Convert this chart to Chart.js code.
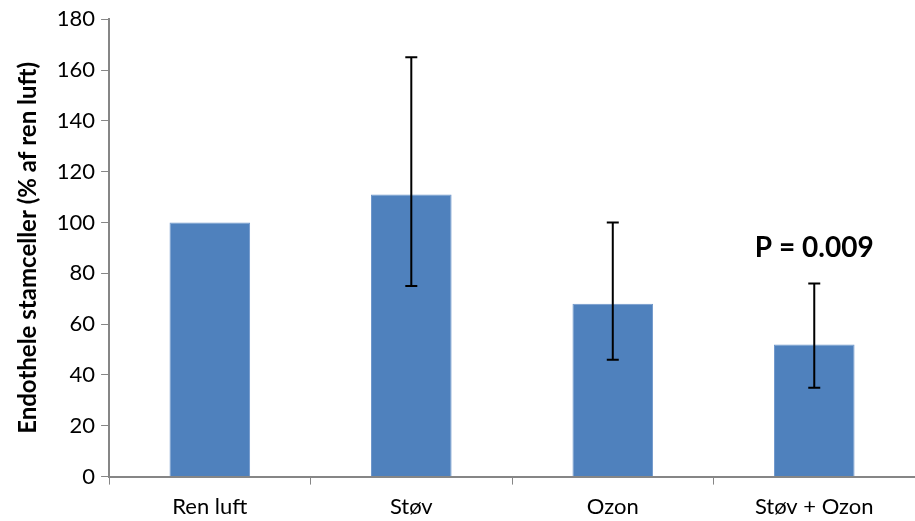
<!DOCTYPE html>
<html>
<head>
<meta charset="utf-8">
<script src="https://cdn.jsdelivr.net/npm/chart.js@4.4.1/dist/chart.umd.min.js"></script>
<style>
  html, body { margin: 0; padding: 0; background: #fff; }
  #wrap { width: 915px; height: 521px; }
</style>
</head>
<body>
<div id="wrap"><canvas id="c"></canvas></div>
<script>
const categories = ['Ren luft', 'Støv', 'Ozon', 'Støv + Ozon'];
const means = [100, 111, 68, 52];
const errLow = [null, 75, 46, 35];
const errHigh = [null, 165, 100, 76];
const pLabel = 'P = 0.009';
const pLabelIndex = 3;
const pLabelValue = 90;

const axisGray = '#868686';
const font = "Lato, 'Open Sans', sans-serif";

// error bars + p-value text, drawn through the chart's own scales
const errorBars = {
  id: 'errorBars',
  afterDatasetsDraw(chart) {
    const ctx = chart.ctx;
    const x = chart.scales.x, y = chart.scales.y;
    ctx.save();
    ctx.strokeStyle = '#000';
    ctx.lineWidth = 2;
    categories.forEach((c, i) => {
      if (errLow[i] == null) return;
      const px = x.getPixelForValue(i);
      const top = y.getPixelForValue(errHigh[i]);
      const bot = y.getPixelForValue(errLow[i]);
      ctx.beginPath();
      ctx.moveTo(px, top); ctx.lineTo(px, bot);
      ctx.moveTo(px - 6, top); ctx.lineTo(px + 6, top);
      ctx.moveTo(px - 6, bot); ctx.lineTo(px + 6, bot);
      ctx.stroke();
    });
    ctx.fillStyle = '#000';
    ctx.font = 'bold 28px ' + font;
    ctx.textAlign = 'center';
    ctx.textBaseline = 'middle';
    ctx.fillText(pLabel, x.getPixelForValue(pLabelIndex), y.getPixelForValue(pLabelValue));
    ctx.restore();
  }
};

new Chart(document.getElementById('c'), {
  type: 'bar',
  data: {
    labels: categories,
    datasets: [{
      data: means,
      backgroundColor: '#4f81bd',
      borderColor: '#6f97cb',
      borderWidth: 1,
      barPercentage: 0.4,
      categoryPercentage: 1
    }]
  },
  options: {
    responsive: true,
    maintainAspectRatio: false,
    animation: false,
    layout: { padding: { top: 10, right: 0, left: 14, bottom: -8 } },
    plugins: {
      legend: { display: false },
      tooltip: { enabled: false }
    },
    scales: {
      x: {
        grid: {
          drawOnChartArea: false,
          drawTicks: true,
          tickLength: 8,
          color: axisGray,
          offset: true
        },
        border: { color: axisGray, width: 2 },
        ticks: { color: '#000', font: { family: font, size: 22 }, padding: 9 }
      },
      y: {
        min: 0,
        max: 180,
        grid: {
          drawOnChartArea: false,
          drawTicks: true,
          tickLength: 8,
          color: axisGray
        },
        border: { color: axisGray, width: 2 },
        ticks: { stepSize: 20, color: '#000', font: { family: font, size: 22 }, padding: 6 },
        title: {
          display: true,
          text: 'Endothele stamceller (% af ren luft)',
          color: '#000',
          font: { family: font, size: 24, weight: 'bold' },
          padding: { top: 0, bottom: 8 }
        }
      }
    }
  },
  plugins: [errorBars]
});
</script>
</body>
</html>
